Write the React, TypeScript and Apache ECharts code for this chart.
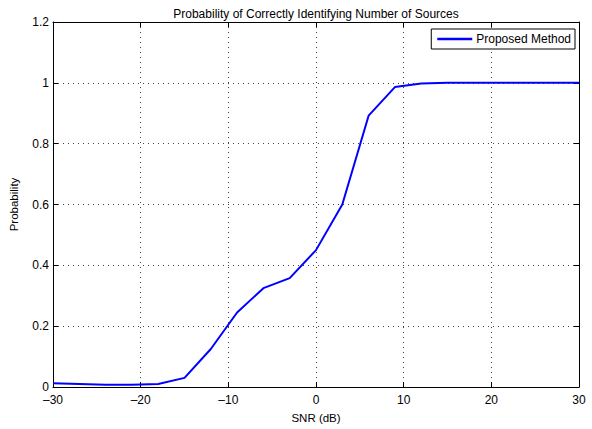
import React, { useEffect, useRef } from "react";
import * as echarts from "echarts";

const snr = [-30, -27, -24, -21, -18, -15, -12, -9, -6, -3, 0, 3, 6, 9, 12, 15, 18, 21, 24, 27, 30];
const probability = [0.012, 0.01, 0.007, 0.007, 0.01, 0.03, 0.125, 0.245, 0.325, 0.358, 0.45, 0.6, 0.892, 0.986, 0.998, 1.0, 1.0, 1.0, 1.0, 1.0, 1.0];
const seriesName = "Proposed Method";
const titleText = "Probability of Correctly Identifying Number of Sources";

const FONT = "Liberation Sans, Arial, Helvetica, sans-serif";

export default function App() {
  const ref = useRef<HTMLDivElement>(null);
  useEffect(() => {
    if (!ref.current) return;
    const chart = echarts.init(ref.current, null, { renderer: "svg" });
    const data = snr.map((x, i) => [x, probability[i]]);
    const gridLine = { show: true, lineStyle: { color: "#444", type: [1, 4] as any, width: 1 } };
    const tick = { show: true, inside: true, length: 5, lineStyle: { color: "#000" } };
    const axisLine = { show: true, onZero: false, lineStyle: { color: "#000", width: 1 } };
    chart.setOption({
      animation: false,
      backgroundColor: "#fff",
      textStyle: { fontFamily: FONT },
      graphic: [
        {
          type: "text",
          x: 316,
          y: 14,
          style: {
            text: titleText,
            fontSize: 12,
            fontFamily: FONT,
            fill: "#000",
            align: "center",
            verticalAlign: "middle",
          },
        },
      ],
      grid: { left: 51, right: 13, top: 22, bottom: 36, containLabel: false },
      legend: {
        show: true,
        right: 17,
        top: 29,
        orient: "vertical",
        data: [{ name: seriesName, icon: "rect" }],
        itemWidth: 35,
        itemHeight: 2.5,
        itemGap: 4,
        padding: [4, 4, 4, 6],
        borderColor: "#000",
        borderWidth: 1,
        backgroundColor: "#fff",
        textStyle: { fontSize: 12, color: "#000", fontFamily: FONT, padding: [0, 0, 0, -1] },
      },
      xAxis: [
        {
          type: "value",
          min: -30,
          max: 30,
          interval: 10,
          position: "bottom",
          name: "SNR (dB)",
          nameLocation: "middle",
          nameGap: 25,
          nameTextStyle: { fontSize: 11.5, color: "#000", fontFamily: FONT },
          axisLine,
          axisTick: tick,
          splitLine: gridLine,
          axisLabel: {
            fontSize: 12,
            color: "#000",
            fontFamily: FONT,
            margin: 7,
            formatter: (v: number) => String(v).replace("-", "\u2013"),
          },
        },
        {
          type: "value",
          min: -30,
          max: 30,
          interval: 10,
          position: "top",
          axisLine,
          axisTick: tick,
          splitLine: { show: false },
          axisLabel: { show: false },
        },
      ],
      yAxis: [
        {
          type: "value",
          min: 0,
          max: 1.2,
          interval: 0.2,
          position: "left",
          name: "Probability",
          nameLocation: "middle",
          nameGap: 33,
          nameTextStyle: { fontSize: 11.5, color: "#000", fontFamily: FONT },
          axisLine,
          axisTick: tick,
          splitLine: gridLine,
          axisLabel: {
            fontSize: 12,
            color: "#000",
            fontFamily: FONT,
            margin: 4,
            lineHeight: 12,
            padding: [0, 0, 3, 0],
            formatter: (v: number) => String(Math.round(v * 10) / 10),
          },
        },
        {
          type: "value",
          min: 0,
          max: 1.2,
          interval: 0.2,
          position: "right",
          axisLine,
          axisTick: tick,
          splitLine: { show: false },
          axisLabel: { show: false },
        },
      ],
      series: [
        {
          name: seriesName,
          type: "line",
          data,
          symbol: "none",
          showSymbol: false,
          lineStyle: { color: "#0000ff", width: 2 },
          itemStyle: { color: "#0000ff" },
          clip: true,
        },
      ],
    });
    return () => chart.dispose();
  }, []);
  return <div ref={ref} style={{ width: 592, height: 429, position: "absolute", left: 0, top: 0 }} />;
}
